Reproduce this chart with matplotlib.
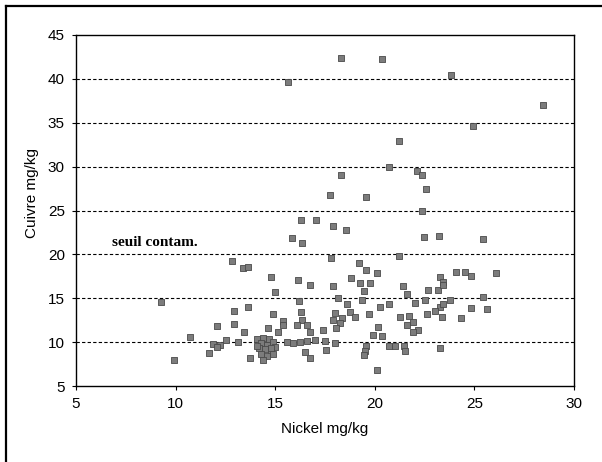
import matplotlib
matplotlib.use("Agg")
import matplotlib.pyplot as plt
from matplotlib.lines import Line2D

nickel = [
    18.30, 20.36, 23.83, 28.44, 15.64, 24.93, 21.21, 20.71, 22.10, 22.37, 18.30, 17.75, 19.54, 22.56,
    22.35, 16.28, 17.03, 17.92, 18.55, 22.47, 23.24, 25.42, 15.86, 16.33,
    17.80, 21.23, 12.82, 13.37, 13.65, 19.22, 19.54, 20.13, 18.80, 14.80, 16.16, 16.73, 17.92, 19.26,
    19.76, 19.44, 21.40, 21.63, 15.00, 22.65, 23.19, 23.27, 23.40, 23.44, 24.10, 24.55, 24.83, 26.08,
    9.25, 13.62, 12.93, 16.20, 18.13, 18.59, 19.34, 20.26, 20.70, 22.02, 22.52, 23.27, 23.44, 23.80,
    25.45, 24.81, 25.62, 14.88, 16.30, 15.41, 15.41, 12.93, 12.09, 16.33, 16.08, 16.58, 16.75, 18.00,
    17.92, 18.34, 18.75, 19.00, 18.25, 18.05, 19.70, 22.60, 23.02, 23.35, 24.31, 21.26, 21.73, 21.60,
    21.93, 22.19, 21.93, 20.15, 19.90, 20.35, 13.45, 14.65, 15.15, 17.41,
    10.72, 12.53, 12.23, 11.90, 12.06, 13.12, 11.68, 9.92, 13.73,
    15.57, 15.90, 16.24, 16.58, 17.00, 17.50, 17.57, 16.50, 16.75, 18.00,
    19.55, 19.50, 19.45, 20.70, 21.00, 21.45, 21.52, 23.25, 20.10,
    14.10, 14.40, 14.70, 14.90, 14.30, 14.60, 15.00, 14.20, 14.50, 14.80, 14.30, 14.60, 14.90, 14.37,
    14.10, 14.80,
]
cuivre = [
    42.4, 42.3, 40.4, 37.0, 39.7, 34.6, 32.9, 30.0, 29.5, 29.0, 29.0, 26.8, 26.5, 27.4,
    24.95, 23.9, 23.9, 23.2, 22.8, 21.95, 22.1, 21.8, 21.85, 21.3,
    19.6, 19.85, 19.25, 18.5, 18.6, 19.0, 18.2, 17.85, 17.35, 17.45, 17.1, 16.5, 16.35, 16.7,
    16.7, 15.8, 16.4, 15.45, 15.7, 15.95, 15.95, 17.45, 16.9, 16.5, 18.0, 17.95, 17.5, 17.85,
    14.6, 14.05, 13.55, 14.65, 15.0, 14.4, 14.85, 13.95, 14.4, 14.5, 14.85, 14.05, 14.4, 14.8,
    15.1, 13.85, 13.8, 13.15, 13.4, 12.4, 11.95, 12.1, 11.85, 12.5, 11.95, 11.95, 11.2, 13.3,
    12.5, 12.7, 13.45, 12.9, 12.15, 11.6, 13.25, 13.2, 13.6, 12.9, 12.8, 12.85, 13.0, 11.95,
    12.35, 11.4, 11.2, 11.7, 10.8, 10.75, 11.1, 11.6, 11.2, 11.4,
    10.55, 10.25, 9.67, 9.8, 9.48, 9.98, 8.8, 7.96, 8.2,
    10.05, 9.85, 10.05, 10.1, 10.25, 10.15, 9.05, 8.9, 8.15, 9.85,
    9.6, 9.0, 8.5, 9.55, 9.55, 9.6, 8.95, 9.3, 6.8,
    10.4, 10.5, 10.3, 10.0, 9.9, 9.7, 9.5, 9.3, 9.2, 8.9, 8.7, 8.4, 8.6, 7.95,
    9.6, 9.3,
]

x_ticks = [5, 10, 15, 20, 25, 30]
y_ticks = [5, 10, 15, 20, 25, 30, 35, 40, 45]
grid_levels = [10, 15, 20, 25, 30, 35, 40]

plt.rcParams['font.family'] = ['Liberation Sans', 'DejaVu Sans']

fig = plt.figure(figsize=(6.02, 4.62), dpi=100)
ax = fig.add_axes([76/602, 1-386/462, (574-76)/602, (386-35)/462])

for g in grid_levels:
    ax.axhline(g, color='black', linestyle=(0, (3, 2)), linewidth=0.8, zorder=1)

ax.scatter(nickel, cuivre, marker='s', s=24, facecolor='#7c7c7c', edgecolor='#4a4a4a',
           linewidths=0.6, zorder=3)

ax.set_xlim(5, 30)
ax.set_ylim(5, 45)
ax.set_xticks(x_ticks)
ax.set_yticks(y_ticks)
ax.tick_params(direction='out', length=3, width=0.8, labelsize=11, pad=5)
for s in ax.spines.values():
    s.set_linewidth(1.0)
    s.set_color('black')

ax.set_xlabel('Nickel mg/kg', fontsize=11, labelpad=8)
ax.set_ylabel('Cuivre mg/kg', fontsize=11)
ax.yaxis.set_label_coords(-0.074, 0.55)

ax.text(6.8, 21.3, 'seuil contam.', fontsize=11, fontweight='bold',
        family=['Liberation Serif', 'DejaVu Serif'], va='center', ha='left')

fig.add_artist(Line2D([5.5/602, 5.5/602], [0, 1-5.5/462], transform=fig.transFigure,
                      color='black', linewidth=1.6))
fig.add_artist(Line2D([5.5/602, 1], [1-5.5/462, 1-5.5/462], transform=fig.transFigure,
                      color='black', linewidth=1.6))

fig.savefig('out.png', dpi=100)
